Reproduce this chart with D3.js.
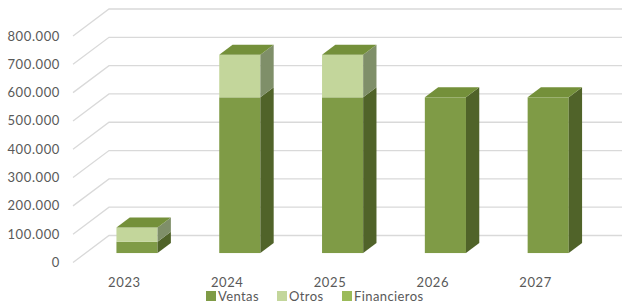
<!DOCTYPE html>
<html>
<head>
<meta charset="utf-8">
<script src="https://cdn.jsdelivr.net/npm/d3@7"></script>
<style>
  body { margin: 0; background: #fff; }
  text { font-family: Lato, "Open Sans", sans-serif; fill: #595959; }
</style>
</head>
<body>
<div id="canvas"></div>
<script>
const width = 622;
const height = 304;

// chart values
const years = ["2023", "2024", "2025", "2026", "2027"];
const ventas = [40000, 550000, 550000, 550000, 550000];
const otros = [50000, 150000, 150000, 0, 0];
const financieros = [0, 0, 0, 0, 0];
const yTicks = [0, 100000, 200000, 300000, 400000, 500000, 600000, 700000, 800000];

const seriesNames = ["Ventas", "Otros", "Financieros"];
const seriesColors = {
    Ventas: { front: "#7F9B46", side: "#506329", top: "#74903A" },
    Otros: { front: "#C3D69B", side: "#7F8F69", top: "#74903A" },
    Financieros: { front: "#9BBB59", side: "#62783A", top: "#86A34A" }
};

// depth of the 3d floor (oblique projection)
const depthX = 36;
const depthY = -27;
const barFrom = 0.35, barTo = 0.72;

const svg = d3.select("#canvas")
    .append("svg")
    .attr("width", width)
    .attr("height", height);

const x = d3.scaleBand()
    .domain(years)
    .range([73, 587]);

const y = d3.scaleLinear()
    .domain([0, 800000])
    .range([262.5, 36]);

const fmt = v => d3.format(",")(v).replace(/,/g, ".");

// gridlines: diagonal on left wall + horizontal on back wall
const grid = svg.append("g");
yTicks.forEach(t => {
    const y0 = y(t);
    grid.append("path")
        .attr("d", `M73,${y0}L${73 + depthX},${y0 + depthY}L${width},${y0 + depthY}`)
        .attr("fill", "none")
        .attr("stroke", "#d9d9d9")
        .attr("stroke-width", 1.3);
});

// y axis labels
svg.append("g").selectAll("text")
    .data(yTicks)
    .join("text")
    .attr("x", 60)
    .attr("y", d => y(d))
    .attr("dy", "0.35em")
    .attr("text-anchor", "end")
    .attr("font-size", 13)
    .attr("letter-spacing", 0.6)
    .text(d => fmt(d));

// x labels
svg.append("g").selectAll("text")
    .data(years)
    .join("text")
    .attr("x", d => x(d) + x.bandwidth() / 2)
    .attr("y", 287)
    .attr("text-anchor", "middle")
    .attr("font-size", 13)
    .attr("letter-spacing", 0.6)
    .text(d => d);

// stacked 3d bars
const stack = d3.stack().keys(seriesNames)(years.map((yr, i) => ({
    year: yr, Ventas: ventas[i], Otros: otros[i], Financieros: financieros[i]
})));

const barW = x.bandwidth() * 0.4;
const fdx = depthX * barFrom, fdy = depthY * barFrom;
const bdx = depthX * (barTo - barFrom), bdy = depthY * (barTo - barFrom);

const bars = svg.append("g");
years.forEach((yr, i) => {
    const x0 = x(yr) + (x.bandwidth() - barW) / 2 + fdx;
    const x1 = x0 + barW;
    let topSeries = null, topVal = 0;
    stack.forEach(s => {
        const lo = s[i][0], hi = s[i][1];
        if (hi - lo <= 0) return;
        const c = seriesColors[s.key];
        const yLo = y(lo) + fdy, yHi = y(hi) + fdy;
        bars.append("rect")
            .attr("x", x0).attr("y", yHi)
            .attr("width", barW).attr("height", yLo - yHi)
            .attr("fill", c.front);
        bars.append("path")
            .attr("d", `M${x1},${yLo}L${x1 + bdx},${yLo + bdy}L${x1 + bdx},${yHi + bdy}L${x1},${yHi}Z`)
            .attr("fill", c.side);
        topSeries = s.key;
        topVal = hi;
    });
    if (topSeries) {
        const yT = y(topVal) + fdy;
        bars.append("path")
            .attr("d", `M${x0},${yT}L${x1},${yT}L${x1 + bdx},${yT + bdy}L${x0 + bdx},${yT + bdy}Z`)
            .attr("fill", seriesColors[topSeries].top);
    }
});

// legend
const legendX = [206, 277, 342];
const legend = svg.append("g");
seriesNames.forEach((name, i) => {
    legend.append("rect")
        .attr("x", legendX[i]).attr("y", 291)
        .attr("width", 10).attr("height", 10)
        .attr("fill", seriesColors[name].front);
    legend.append("text")
        .attr("x", legendX[i] + 12).attr("y", 301)
        .attr("font-size", 13)
        .attr("letter-spacing", 0.4)
        .text(name);
});
</script>
</body>
</html>
